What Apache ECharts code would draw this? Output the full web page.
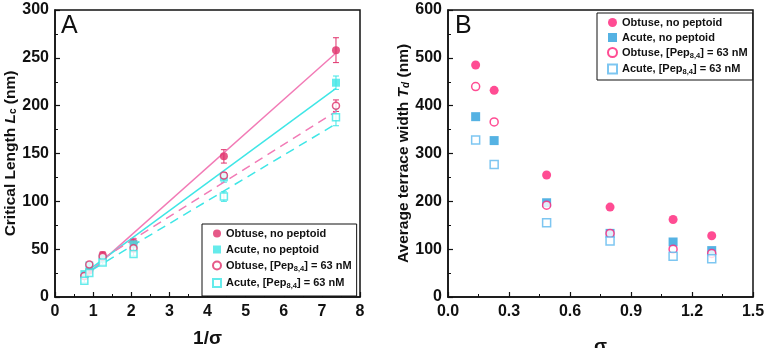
<!DOCTYPE html>
<html>
<head>
<meta charset="utf-8">
<script src="https://cdn.jsdelivr.net/npm/echarts@6/dist/echarts.min.js"></script>
<style>
  html, body { margin: 0; padding: 0; background: #fff; }
  #chart { width: 767px; height: 348px; }
</style>
</head>
<body>
<div id="chart"></div>
<script>
// panel A: critical length vs 1/sigma
const invSigma = [0.77, 0.9, 1.25, 2.06, 4.43, 7.37];
const obtuseNoPep = [22, 28, 44, 57, 147, 258];
const obtuseNoPepErr = [2, 3, 3, 4, 7, 13];
const acuteNoPep = [24, 33, 40, 55, 125, 224];
const acuteNoPepErr = [2, 3, 2, 3, 5, 7];
const obtusePep = [22, 34, 42, 51, 127, 200];
const obtusePepErr = [2, 2, 2, 3, 3, 6];
const acutePep = [17, 25, 36, 45, 105, 188];
const acutePepErr = [2, 2, 2, 2, 5, 9];
// linear fits, end points
const fitObtuseNoPep = [[0.77, 21], [7.37, 255]];
const fitAcuteNoPep = [[0.77, 25], [7.37, 218]];
const fitObtusePep = [[1.25, 40], [7.37, 194]];
const fitAcutePep = [[1.0, 29], [7.37, 181]];

// panel B: terrace width vs sigma
const sigma = [0.136, 0.227, 0.485, 0.797, 1.107, 1.297];
const tObtuseNoPep = [485, 432, 255, 188, 162, 128];
const tAcuteNoPep = [377, 327, 197, 133, 115, 97];
const tObtusePep = [440, 366, 192, 133, 100, 91];
const tAcutePep = [328, 277, 155, 117, 85, 80];

const labels = ['Obtuse, no peptoid', 'Acute, no peptoid', 'Obtuse, [Pep8,4] = 63 nM', 'Acute, [Pep8,4] = 63 nM'];

const pinkA = '#e0306a', pinkLineA = '#f27bb6', cyanA = '#3fe6e6';
const pinkB = '#ff1f78', blueB = '#2a9fdc', lightBlueB = '#5cb8ee';
const font = 'Liberation Sans, Arial, sans-serif';

const zip = (xs, ys) => xs.map((x, i) => [x, ys[i]]);
const zipErr = (xs, ys, es) => xs.map((x, i) => [x, ys[i] - es[i], ys[i] + es[i]]);

function errorBars(name, data, color) {
  return {
    type: 'custom', name: name, xAxisIndex: 0, yAxisIndex: 0, data: data, z: 1,
    renderItem: function (params, api) {
      const x = api.value(0);
      const lo = api.coord([x, api.value(1)]);
      const hi = api.coord([x, api.value(2)]);
      const w = 3;
      const style = { stroke: color, lineWidth: 1 };
      return {
        type: 'group', children: [
          { type: 'line', shape: { x1: lo[0], y1: lo[1], x2: hi[0], y2: hi[1] }, style: style },
          { type: 'line', shape: { x1: lo[0] - w, y1: lo[1], x2: lo[0] + w, y2: lo[1] }, style: style },
          { type: 'line', shape: { x1: hi[0] - w, y1: hi[1], x2: hi[0] + w, y2: hi[1] }, style: style }
        ]
      };
    }
  };
}

function fitLine(data, color, dashed) {
  return {
    type: 'line', xAxisIndex: 0, yAxisIndex: 0, data: data, symbol: 'none', silent: true, z: 1,
    lineStyle: { color: color, width: 1.5, type: dashed ? [9, 6] : 'solid' }
  };
}

function scatter(name, idx, data, symbol, color, hollow, size) {
  return {
    type: 'scatter', name: name, xAxisIndex: idx, yAxisIndex: idx, data: data,
    symbol: symbol, symbolSize: size, z: 3,
    itemStyle: hollow
      ? { color: '#fff', borderColor: color, borderWidth: 1.5 }
      : { color: color }
  };
}

const richText = {
  a: { fontFamily: font, fontWeight: 'bold', fontSize: 11, color: '#111' },
  s: { fontFamily: font, fontWeight: 'bold', fontSize: 7.5, color: '#111', padding: [6, 0, 0, 0] }
};
function legendFormatter(name) {
  const label = name.slice(2);
  if (label.indexOf('Pep8,4') < 0) return '{a|' + label + '}';
  const parts = label.split('Pep8,4');
  return '{a|' + parts[0] + 'Pep}{s|8,4}{a|' + parts[1] + '}';
}

const axisCommon = {
  axisLine: { show: true, onZero: false, lineStyle: { color: '#111', width: 1.5 } },
  axisTick: { show: true, inside: true, length: 5, lineStyle: { color: '#111', width: 1.2 } },
  minorTick: { show: true, splitNumber: 2, length: 3, lineStyle: { color: '#111', width: 1 } },
  splitLine: { show: false },
  axisLabel: { fontFamily: font, fontWeight: 'bold', fontSize: 16, color: '#111', margin: 6 },
  nameTextStyle: { fontFamily: font, fontWeight: 'bold', fontSize: 15, color: '#111' }
};

const option = {
  animation: false,
  backgroundColor: '#fff',
  title: [
    { text: 'A', left: 56, top: 9, textStyle: { fontFamily: font, fontWeight: 'normal', fontSize: 25, color: '#111' } },
    { text: 'B', left: 450, top: 9, textStyle: { fontFamily: font, fontWeight: 'normal', fontSize: 25, color: '#111' } }
  ],
  grid: [
    { left: 55, top: 10, width: 305, height: 287, show: true, borderColor: '#111', borderWidth: 1.5, outerBoundsMode: 'none', containLabel: false },
    { left: 448, top: 10, width: 305, height: 287, show: true, borderColor: '#111', borderWidth: 1.5, outerBoundsMode: 'none', containLabel: false }
  ],
  legend: [
    {
      data: ['A:' + labels[0], 'A:' + labels[1], 'A:' + labels[2], 'A:' + labels[3]],
      orient: 'vertical', left: 202, top: 224,
      padding: [4, 5, 6, 10], itemGap: 5, itemWidth: 8, itemHeight: 8,
      borderColor: '#111', borderWidth: 1, backgroundColor: '#fff',
      formatter: legendFormatter, textStyle: { rich: richText }
    },
    {
      data: ['B:' + labels[0], 'B:' + labels[1], 'B:' + labels[2], 'B:' + labels[3]],
      orient: 'vertical', left: 597, top: 13,
      padding: [4, 5, 4, 10], itemGap: 4, itemWidth: 9, itemHeight: 9,
      borderColor: '#111', borderWidth: 1, backgroundColor: '#fff',
      formatter: legendFormatter, textStyle: { rich: richText }
    }
  ],
  xAxis: [
    Object.assign({}, axisCommon, {
      type: 'value', gridIndex: 0, min: 0, max: 8, interval: 1,
      name: '1/σ', nameLocation: 'middle', nameGap: 32,
      axisLabel: Object.assign({}, axisCommon.axisLabel, { margin: 7 }),
      nameTextStyle: { fontFamily: font, fontWeight: 'bold', fontSize: 19, color: '#111' }
    }),
    Object.assign({}, axisCommon, {
      type: 'value', gridIndex: 1, min: 0, max: 1.5, interval: 0.3,
      name: 'σ', nameLocation: 'middle', nameGap: 40,
      axisLabel: Object.assign({}, axisCommon.axisLabel, { margin: 7, formatter: v => v.toFixed(1) }),
      nameTextStyle: { fontFamily: font, fontWeight: 'bold', fontSize: 19, color: '#111' }
    })
  ],
  yAxis: [
    Object.assign({}, axisCommon, {
      type: 'value', gridIndex: 0, min: 0, max: 300, interval: 50,
      name: '{a|Critical Length }{i|L}{s|c}{a| (nm)}', nameLocation: 'middle', nameGap: 36,
      nameTextStyle: {
        rich: {
          a: { fontFamily: font, fontWeight: 'bold', fontSize: 15.5, color: '#111' },
          i: { fontFamily: font, fontWeight: 'bold', fontStyle: 'italic', fontSize: 15.5, color: '#111' },
          s: { fontFamily: font, fontWeight: 'bold', fontSize: 10, color: '#111', padding: [6, 0, 0, 0] }
        }
      }
    }),
    Object.assign({}, axisCommon, {
      type: 'value', gridIndex: 1, min: 0, max: 600, interval: 100,
      name: '{a|Average terrace width }{i|T}{s|d}{a| (nm)}', nameLocation: 'middle', nameGap: 34,
      nameTextStyle: {
        rich: {
          a: { fontFamily: font, fontWeight: 'bold', fontSize: 15.5, color: '#111' },
          i: { fontFamily: font, fontWeight: 'bold', fontStyle: 'italic', fontSize: 15.5, color: '#111' },
          s: { fontFamily: font, fontWeight: 'bold', fontStyle: 'italic', fontSize: 10, color: '#111', padding: [6, 0, 0, 0] }
        }
      }
    })
  ],
  series: [
    fitLine(fitObtuseNoPep, pinkLineA, false),
    fitLine(fitAcuteNoPep, cyanA, false),
    fitLine(fitObtusePep, pinkLineA, true),
    fitLine(fitAcutePep, cyanA, true),
    errorBars('errA0', zipErr(invSigma, obtuseNoPep, obtuseNoPepErr), pinkA),
    errorBars('errA1', zipErr(invSigma, acuteNoPep, acuteNoPepErr), cyanA),
    errorBars('errA2', zipErr(invSigma, obtusePep, obtusePepErr), pinkA),
    errorBars('errA3', zipErr(invSigma, acutePep, acutePepErr), cyanA),
    scatter('A:' + labels[0], 0, zip(invSigma, obtuseNoPep), 'circle', pinkA, false, 8),
    scatter('A:' + labels[1], 0, zip(invSigma, acuteNoPep), 'rect', cyanA, false, 8),
    scatter('A:' + labels[2], 0, zip(invSigma, obtusePep), 'circle', pinkA, true, 7),
    scatter('A:' + labels[3], 0, zip(invSigma, acutePep), 'rect', cyanA, true, 7),
    scatter('B:' + labels[0], 1, zip(sigma, tObtuseNoPep), 'circle', pinkB, false, 9),
    scatter('B:' + labels[1], 1, zip(sigma, tAcuteNoPep), 'rect', blueB, false, 9),
    scatter('B:' + labels[2], 1, zip(sigma, tObtusePep), 'circle', pinkB, true, 8),
    scatter('B:' + labels[3], 1, zip(sigma, tAcutePep), 'rect', lightBlueB, true, 8)
  ]
};

const myChart = echarts.init(document.getElementById('chart'));
myChart.setOption(option);
</script>
</body>
</html>
